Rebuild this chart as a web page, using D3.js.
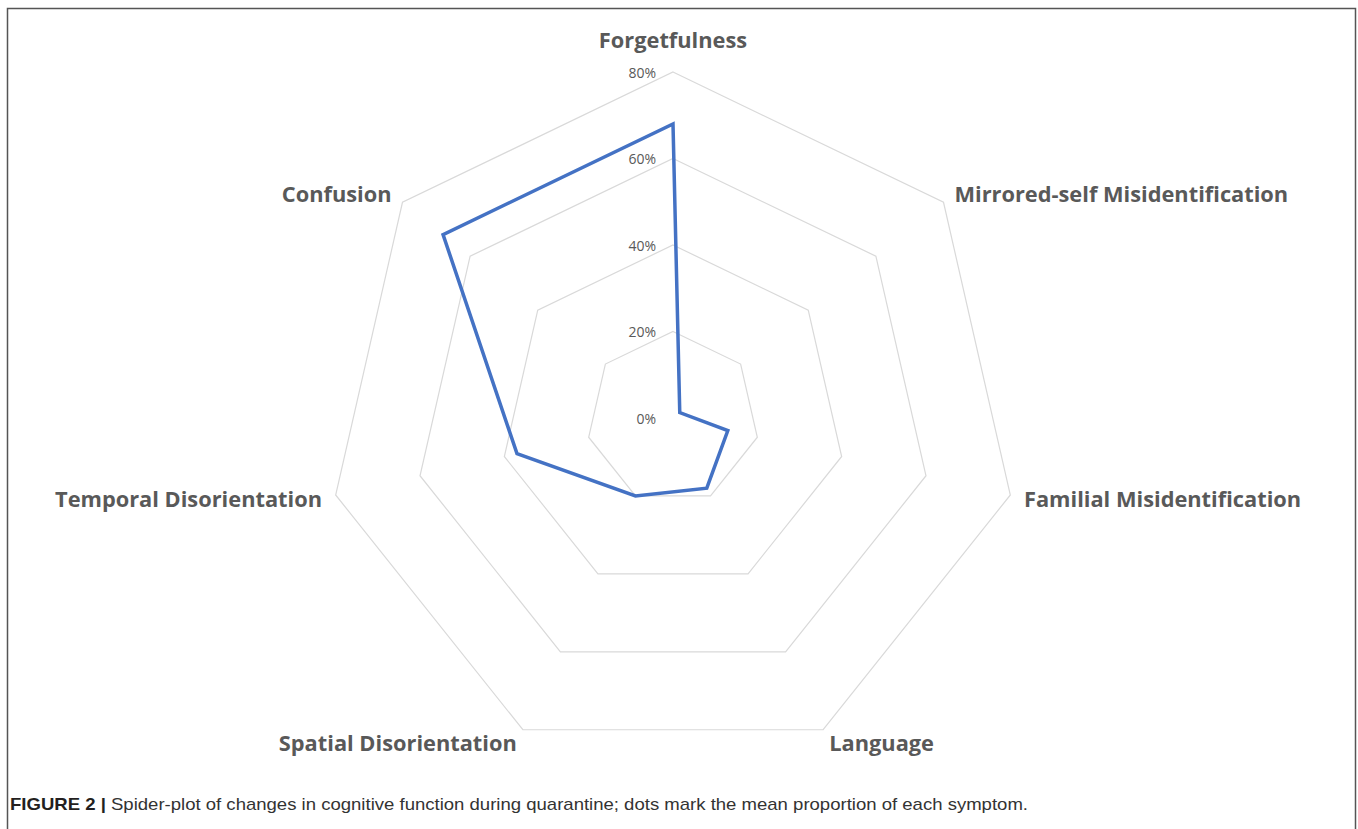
<!DOCTYPE html>
<html>
<head>
<meta charset="utf-8">
<script src="https://cdn.jsdelivr.net/npm/d3@7"></script>
<style>
body{margin:0;background:#fff;}
svg{display:block;}
</style>
</head>
<body>
<svg id="chart" width="1358" height="829"></svg>
<script>
var categories=["Forgetfulness","Mirrored-self Misidentification","Familial Misidentification","Language","Spatial Disorientation","Temporal Disorientation","Confusion"]
var values=[0.68,0.02,0.13,0.18,0.20,0.37,0.68]
var ticks=[0,0.2,0.4,0.6,0.8]
var tickLabels=["0%","20%","40%","60%","80%"]

var width=1358,height=829
var cx=673,cy=418,radius=346

var svg=d3.select("#chart")

// frame (open at bottom)
svg.append("path")
.attr("d","M7.5,829 L7.5,8.5 L1355.5,8.5 L1355.5,829")
.attr("fill","none")
.attr("stroke","#555")
.attr("stroke-width",1.5)

var rScale=d3.scaleLinear()
.domain([0,0.8])
.range([0,radius])

var angle=d3.scaleLinear()
.domain([0,categories.length])
.range([0,2*Math.PI])

var g=svg.append("g")
.attr("transform",`translate(${cx},${cy})`)

var ring=d3.lineRadial()
.angle((d,i)=>angle(i))
.radius(d=>rScale(d))
.curve(d3.curveLinearClosed)

// grid rings
g.selectAll(".ring")
.data(ticks.slice(1))
.enter()
.append("path")
.classed("ring",true)
.attr("d",t=>ring(categories.map(()=>t)))
.attr("fill","none")
.attr("stroke","#d9d9d9")
.attr("stroke-width",1.2)

// tick labels
g.selectAll(".tick")
.data(ticks)
.enter()
.append("text")
.classed("tick",true)
.attr("x",-17)
.attr("y",t=>-rScale(t))
.attr("text-anchor","end")
.attr("dominant-baseline","central")
.attr("font-family","'Open Sans', sans-serif")
.attr("font-size",14)
.attr("fill","#595959")
.text((t,i)=>tickLabels[i])

// data line
g.append("path")
.attr("d",ring(values))
.attr("fill","none")
.attr("stroke","#4472c4")
.attr("stroke-width",3.5)
.attr("stroke-linejoin","miter")

// category labels
g.selectAll(".cat")
.data(categories)
.enter()
.append("text")
.classed("cat",true)
.attr("x",(d,i)=>Math.sin(angle(i))*(radius+14))
.attr("y",(d,i)=>{
	var y=-Math.cos(angle(i))*(radius+14)
	return i===0?y-19:y
})
.attr("text-anchor",(d,i)=>{
	var s=Math.sin(angle(i))
	return s>0.1?"start":(s<-0.1?"end":"middle")
})
.attr("dominant-baseline","central")
.attr("font-family","'Open Sans', sans-serif")
.attr("font-weight","bold")
.attr("font-size",21.8)
.attr("fill","#595959")
.text(d=>d)

// caption
var cap=svg.append("text")
.attr("x",10)
.attr("y",810)
.attr("font-family","'Liberation Sans', Arial, sans-serif")
.attr("font-size",17)
.attr("fill","#333")
.attr("textLength",1018)
.attr("lengthAdjust","spacingAndGlyphs")

cap.append("tspan")
.attr("font-weight","bold")
.attr("fill","#231f20")
.text("FIGURE 2 | ")

cap.append("tspan")
.text("Spider-plot of changes in cognitive function during quarantine; dots mark the mean proportion of each symptom.")
</script>
</body>
</html>
